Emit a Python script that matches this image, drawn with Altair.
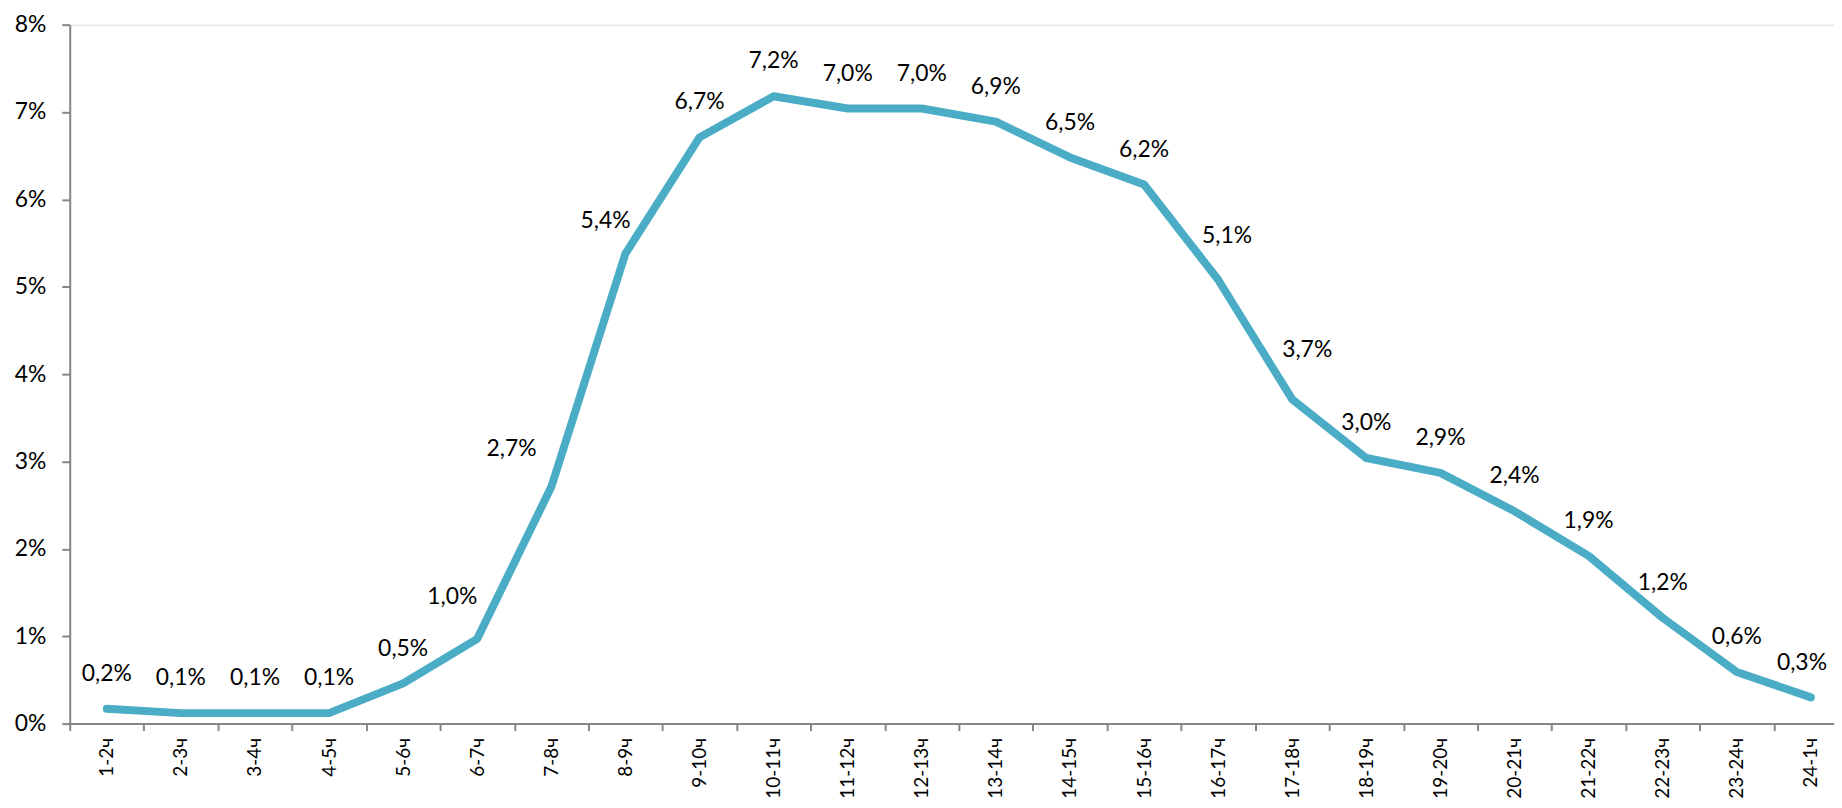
import altair as alt
import pandas as pd

hours = ["1-2ч", "2-3ч", "3-4ч", "4-5ч", "5-6ч", "6-7ч", "7-8ч", "8-9ч", "9-10ч", "10-11ч",
         "11-12ч", "12-13ч", "13-14ч", "14-15ч", "15-16ч", "16-17ч", "17-18ч", "18-19ч",
         "19-20ч", "20-21ч", "21-22ч", "22-23ч", "23-24ч", "24-1ч"]
share = [0.17, 0.12, 0.12, 0.12, 0.46, 0.97, 2.71, 5.38, 6.71, 7.18,
         7.04, 7.04, 6.89, 6.48, 6.17, 5.08, 3.71, 3.04,
         2.87, 2.43, 1.92, 1.21, 0.59, 0.30]
labels = ["0,2%", "0,1%", "0,1%", "0,1%", "0,5%", "1,0%", "2,7%", "5,4%", "6,7%", "7,2%",
          "7,0%", "7,0%", "6,9%", "6,5%", "6,2%", "5,1%", "3,7%", "3,0%",
          "2,9%", "2,4%", "1,9%", "1,2%", "0,6%", "0,3%"]
y_ticks = [0, 1, 2, 3, 4, 5, 6, 7, 8]

df = pd.DataFrame({"hour": hours, "share": share, "label": labels})

FONT = "Lato"
AXIS_COLOR = "#868686"

x = alt.X("hour:N", sort=hours,
          scale=alt.Scale(range=[0, 1786], paddingInner=0, paddingOuter=0),
          axis=alt.Axis(title=None, labelAngle=270, labelAlign="right", labelBaseline="middle",
                        labelFont=FONT, labelFontSize=19, labelColor="#000000",
                        labelPadding=7, tickBand="extent", tickSize=7,
                        tickColor=AXIS_COLOR, domainColor=AXIS_COLOR,
                        tickWidth=2, domainWidth=2, grid=False, labelOverlap=False))
y = alt.Y("share:Q", scale=alt.Scale(domain=[0, 8], nice=False, zero=True),
          axis=alt.Axis(title=None, values=y_ticks, labelExpr="datum.value + '%'",
                        labelFont=FONT, labelFontSize=23, labelColor="#000000",
                        labelPadding=16, tickSize=8, tickColor=AXIS_COLOR,
                        domainColor=AXIS_COLOR, tickWidth=2, domainWidth=2, grid=False))

base = alt.Chart(df)
line = base.mark_line(color="#4BACC6", strokeWidth=8, strokeCap="round",
                      strokeJoin="round").encode(x=x, y=y)

# label nudges (like manual label placement in the original): hour -> (dx, dy)
nudges = {"6-7ч": (-25, -42), "7-8ч": (-40, -38), "8-9ч": (-20, -33),
          "16-17ч": (9, -44), "17-18ч": (15, -50), "24-1ч": (-9, -35)}
special = list(nudges)

text_layers = []
plain = base.transform_filter(
    alt.FieldOneOfPredicate(field="hour", oneOf=[h for h in hours if h not in special])
).mark_text(font=FONT, fontSize=23, color="#000000", dy=-35, baseline="middle").encode(
    x=alt.X("hour:N", sort=hours), y="share:Q", text="label:N")
text_layers.append(plain)
for h in special:
    dx, dy = nudges[h]
    text_layers.append(
        base.transform_filter(alt.datum.hour == h)
        .mark_text(font=FONT, fontSize=23, color="#000000", dx=dx, dy=dy, baseline="middle")
        .encode(x=alt.X("hour:N", sort=hours), y="share:Q", text="label:N"))

chart = alt.layer(line, *text_layers).properties(
    width=1772, height=702,
    autosize=alt.AutoSizeParams(type="none"),
    padding={"left": 62, "top": 15, "right": 0, "bottom": 75},
).configure_view(stroke=None).configure(background="white")

chart.save("out.html", embed_options={"renderer": "svg", "actions": False})
